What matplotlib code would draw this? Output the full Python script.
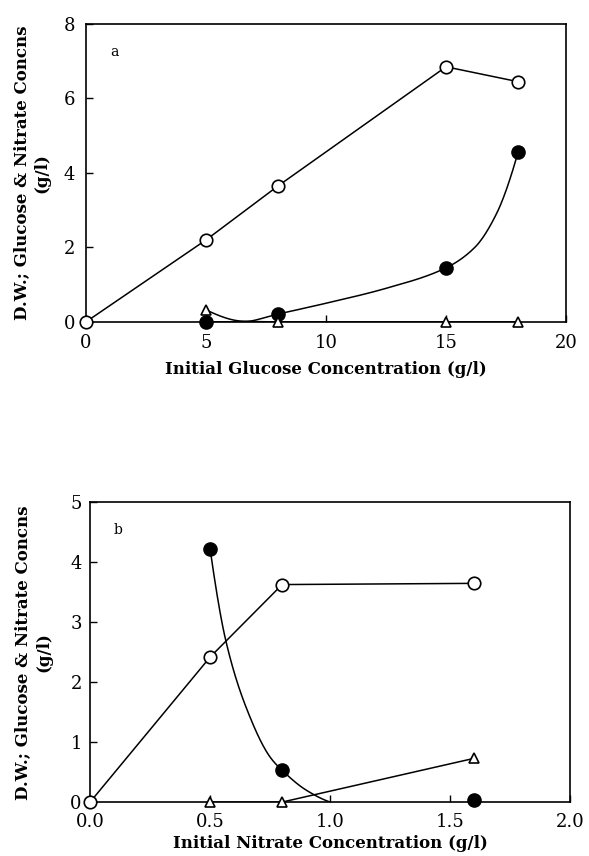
import matplotlib
matplotlib.use('Agg')
import matplotlib.pyplot as plt
import numpy as np

plt.rcParams['font.family'] = ['DejaVu Serif']

# panel a: initial glucose (g/l)
glc_x = [0, 5, 8, 15, 18]
glc_open = [0, 2.2, 3.65, 6.85, 6.45]
glc_fill_x = [5, 8, 15, 18]
glc_fill = [0, 0.21, 1.45, 4.55]
glc_tri_x = [5, 8, 15, 18]
glc_tri = [0.32, 0, 0, 0]
# hand-drawn trend curves in panel a (knots)
glc_fill_curve_x = [5, 6.5, 8, 10, 12.5, 15, 16.2, 17.1, 18]
glc_fill_curve_y = [0, 0, 0.21, 0.5, 0.9, 1.45, 2.0, 2.9, 4.55]
glc_tri_curve_x = [5, 6.5, 8, 15, 18]
glc_tri_curve_y = [0.32, 0.02, 0, 0, 0]

# panel b: initial nitrate (g/l)
nit_x = [0, 0.5, 0.8, 1.6]
nit_open = [0, 2.42, 3.63, 3.65]
nit_fill_x = [0.5, 0.8, 1.6]
nit_fill = [4.22, 0.53, 0.03]
nit_tri_x = [0.5, 0.8, 1.6]
nit_tri = [0, 0, 0.73]
nit_fill_curve_x = [0.5, 0.565, 0.65, 0.75, 0.8, 0.9, 1.0]
nit_fill_curve_y = [4.22, 2.7, 1.58, 0.75, 0.53, 0.2, 0.0]


def pchip(xk, yk, n=300):
    # monotone cubic through the knots, used only for drawing the smooth lines
    xk = np.asarray(xk, float)
    yk = np.asarray(yk, float)
    h = np.diff(xk)
    d = np.diff(yk) / h
    m = np.zeros_like(xk)
    for i in range(1, len(xk) - 1):
        if d[i-1] * d[i] > 0:
            w1 = 2*h[i] + h[i-1]
            w2 = h[i] + 2*h[i-1]
            m[i] = (w1 + w2) / (w1/d[i-1] + w2/d[i])
    def end(h0, h1, d0, d1):
        s = ((2*h0 + h1)*d0 - h0*d1) / (h0 + h1)
        if np.sign(s) != np.sign(d0):
            s = 0
        elif np.sign(d0) != np.sign(d1) and abs(s) > 3*abs(d0):
            s = 3*d0
        return s
    m[0] = end(h[0], h[1], d[0], d[1])
    m[-1] = end(h[-1], h[-2], d[-1], d[-2])
    xs = np.linspace(xk[0], xk[-1], n)
    idx = np.clip(np.searchsorted(xk, xs) - 1, 0, len(h) - 1)
    t = (xs - xk[idx]) / h[idx]
    h00 = 2*t**3 - 3*t**2 + 1
    h10 = t**3 - 2*t**2 + t
    h01 = -2*t**3 + 3*t**2
    h11 = t**3 - t**2
    ys = h00*yk[idx] + h10*h[idx]*m[idx] + h01*yk[idx+1] + h11*h[idx]*m[idx+1]
    return xs, ys


fig = plt.figure(figsize=(5.89, 8.56), dpi=100)
ax1 = fig.add_axes([0.146, 0.624, 0.815, 0.348])
ax2 = fig.add_axes([0.153, 0.063, 0.815, 0.350])

lw = 1.1
ylab = 'D.W.; Glucose & Nitrate Concns\n(g/l)'

# --- panel a
ax1.plot(glc_x, glc_open, color='black', lw=lw, zorder=2)
cx, cy = pchip(glc_fill_curve_x, glc_fill_curve_y)
ax1.plot(cx, cy, color='black', lw=lw, zorder=2)
cx, cy = pchip(glc_tri_curve_x, glc_tri_curve_y)
ax1.plot(cx, cy, color='black', lw=lw, zorder=2)
ax1.plot(glc_x, glc_open, 'o', ms=9, mfc='white', mec='black', mew=1.2, zorder=3, clip_on=False)
ax1.plot(glc_fill_x, glc_fill, 'o', ms=9.5, mfc='black', mec='black', zorder=3, clip_on=False)
ax1.plot(glc_tri_x, glc_tri, '^', ms=7.5, mfc='white', mec='black', mew=1.2, zorder=3, clip_on=False)
ax1.set_xlim(0, 20)
ax1.set_ylim(0, 8)
ax1.set_xticks([0, 5, 10, 15, 20])
ax1.set_yticks([0, 2, 4, 6, 8])
ax1.text(0.06, 0.906, 'a', transform=ax1.transAxes, fontsize=10, ha='center', va='center')
ax1.set_xlabel('Initial Glucose Concentration (g/l)', fontsize=12, fontweight='bold', labelpad=6)
ax1.text(-0.113, 0.5, ylab, transform=ax1.transAxes, rotation=90, ha='center', va='center',
         multialignment='center', fontsize=12, fontweight='bold', linespacing=1.3)
ax1.tick_params(axis='x', direction='in', length=5, width=1, labelsize=13, pad=9)
ax1.tick_params(axis='y', direction='in', length=5, width=1, labelsize=13, pad=8)

# --- panel b
ax2.plot(nit_x, nit_open, color='black', lw=lw, zorder=2)
cx, cy = pchip(nit_fill_curve_x, nit_fill_curve_y)
ax2.plot(cx, cy, color='black', lw=lw, zorder=2)
ax2.plot(nit_tri_x, nit_tri, color='black', lw=lw, zorder=2)
ax2.plot(nit_x, nit_open, 'o', ms=9, mfc='white', mec='black', mew=1.2, zorder=3, clip_on=False)
ax2.plot(nit_fill_x, nit_fill, 'o', ms=9.5, mfc='black', mec='black', zorder=3, clip_on=False)
ax2.plot(nit_tri_x, nit_tri, '^', ms=7.5, mfc='white', mec='black', mew=1.2, zorder=3, clip_on=False)
ax2.set_xlim(0, 2.0)
ax2.set_ylim(0, 5)
ax2.set_xticks([0, 0.5, 1.0, 1.5, 2.0])
ax2.set_xticklabels(['0.0', '0.5', '1.0', '1.5', '2.0'])
ax2.set_yticks([0, 1, 2, 3, 4, 5])
ax2.text(0.058, 0.907, 'b', transform=ax2.transAxes, fontsize=10, ha='center', va='center')
ax2.set_xlabel('Initial Nitrate Concentration (g/l)', fontsize=12, fontweight='bold', labelpad=3)
ax2.text(-0.118, 0.5, ylab, transform=ax2.transAxes, rotation=90, ha='center', va='center',
         multialignment='center', fontsize=12, fontweight='bold', linespacing=1.3)
ax2.tick_params(axis='x', direction='in', length=5, width=1, labelsize=13, pad=8)
ax2.tick_params(axis='y', direction='in', length=5, width=1, labelsize=13, pad=6)

for ax in (ax1, ax2):
    for sp in ax.spines.values():
        sp.set_linewidth(1.2)

fig.savefig('out.png', dpi=100)
plt.close(fig)
